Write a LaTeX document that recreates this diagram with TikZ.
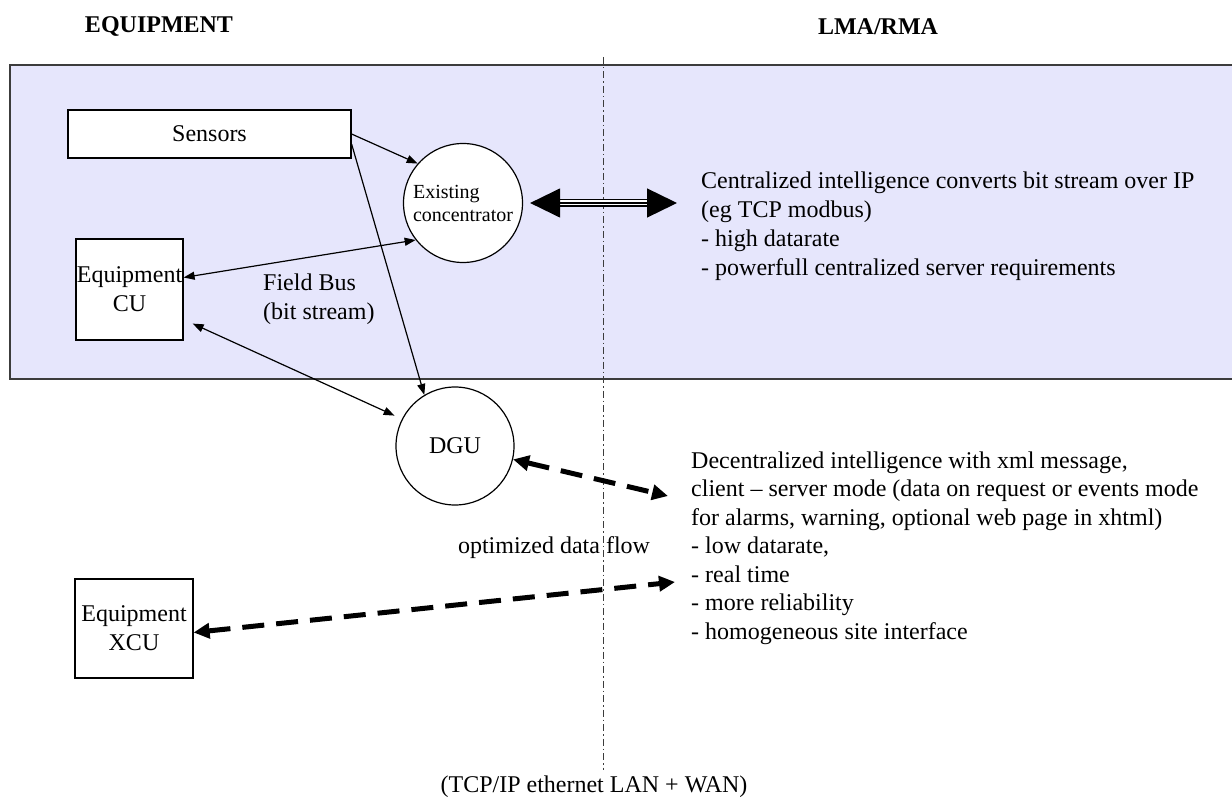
\documentclass[tikz,border=0pt]{standalone}
\usepackage{fontspec}
\setmainfont{Liberation Serif}
\usetikzlibrary{arrows.meta,calc,positioning}

\definecolor{bandfill}{RGB}{230,230,252}
\definecolor{bandline}{RGB}{60,60,60}

\begin{document}
\begin{tikzpicture}[x=1pt, y=-1pt,
    font=\fontsize{24}{29}\selectfont,
    box/.style={rectangle, draw, fill=white, line width=1.2pt, inner sep=0pt, align=center},
    hub/.style={circle, draw, fill=white, line width=1.2pt, inner sep=0pt, align=left},
    arrow/.style={line width=1.2pt, -{Triangle[length=11pt,width=8pt]}},
    biarrow/.style={line width=1.2pt, {Triangle[length=11pt,width=8pt]}-{Triangle[length=11pt,width=8pt]}},
    flow/.style={line width=5pt, dash pattern=on 22pt off 12pt, {Triangle[length=16pt,width=15pt]}-{Triangle[length=16pt,width=15pt]}},
    bigtip/.style={line width=1.3pt, {Triangle[length=30pt,width=29pt]}-{Triangle[length=30pt,width=29pt]}},
    note/.style={anchor=west, align=left, inner sep=0pt},
    heading/.style={font=\fontsize{24}{29}\selectfont\bfseries}
]
\useasboundingbox (0,0) rectangle (1232,805);

% Column titles
\node[heading] (eqtitle) at (159,27) {EQUIPMENT};
\node[heading] (lmatitle) at (878,27) {LMA/RMA};

% Shaded field bus zone
\filldraw[fill=bandfill, draw=bandline, line width=1.5pt] (10,65) rectangle (1245,379);

% Border between equipment and LMA/RMA
\draw[bandline, line width=1pt, dash pattern=on 7pt off 3pt on 1.5pt off 3pt] (603,57) -- (603,770);

% Equipment side
\node[box, minimum width=283pt, minimum height=48pt] (sensors) at (209.5,134) {Sensors};
\node[hub, minimum size=119pt, font=\fontsize{20}{23}\selectfont] (conc) at (463,203) {Existing\\concentrator};
\node[box, minimum width=107pt, minimum height=101pt] (cu) at (129.5,289.5) {Equipment\\CU};
\node[hub, minimum size=118pt] (dgu) at (455,446) {DGU};
\node[box, minimum width=118pt, minimum height=99pt] (xcu) at (134,628.5) {Equipment\\XCU};

\node[note] (fieldbus) at (263,299) {Field Bus\\(bit stream)};

% Field bus links
\draw[arrow] (sensors.east) -- (conc.139);
\draw[arrow] ([yshift=-10pt]sensors.east) -- (dgu.121);
\draw[biarrow] ([yshift=12pt]cu.east) -- (conc.218);
\draw[biarrow, shorten >=8pt] ([xshift=9pt,yshift=17pt]cu.south east) -- (dgu.153);

% Centralized link
\coordinate (ipfar) at (677,203);
\draw[line width=1.3pt, double distance=5pt, shorten <=29pt, shorten >=29pt] ([xshift=7pt]conc.east) -- (ipfar);
\draw[bigtip] ([xshift=7pt]conc.east) -- (ipfar);

% Decentralized links
\coordinate (dgufar) at (668,496);
\coordinate (xcufar) at (675,582);
\draw[flow] (dgu.-13) -- (dgufar);
\draw[flow] ([yshift=-4pt]xcu.east) -- (xcufar);
\node (optflow) at (554,548) {optimized data flow};

% LMA/RMA side
\node[note] (central) at (701,226) {Centralized intelligence converts bit stream over IP\\(eg TCP modbus)\\- high datarate\\- powerfull centralized server requirements};
\node[note, font=\fontsize{24}{28.5}\selectfont] (decentral) at (691,548) {Decentralized intelligence with xml message,\\client -- server mode (data on request or events mode\\for alarms, warning, optional web page in xhtml)\\- low datarate,\\- real time\\- more reliability\\- homogeneous site interface};

\node (network) at (594,787) {(TCP/IP ethernet LAN + WAN)};

\end{tikzpicture}
\end{document}
